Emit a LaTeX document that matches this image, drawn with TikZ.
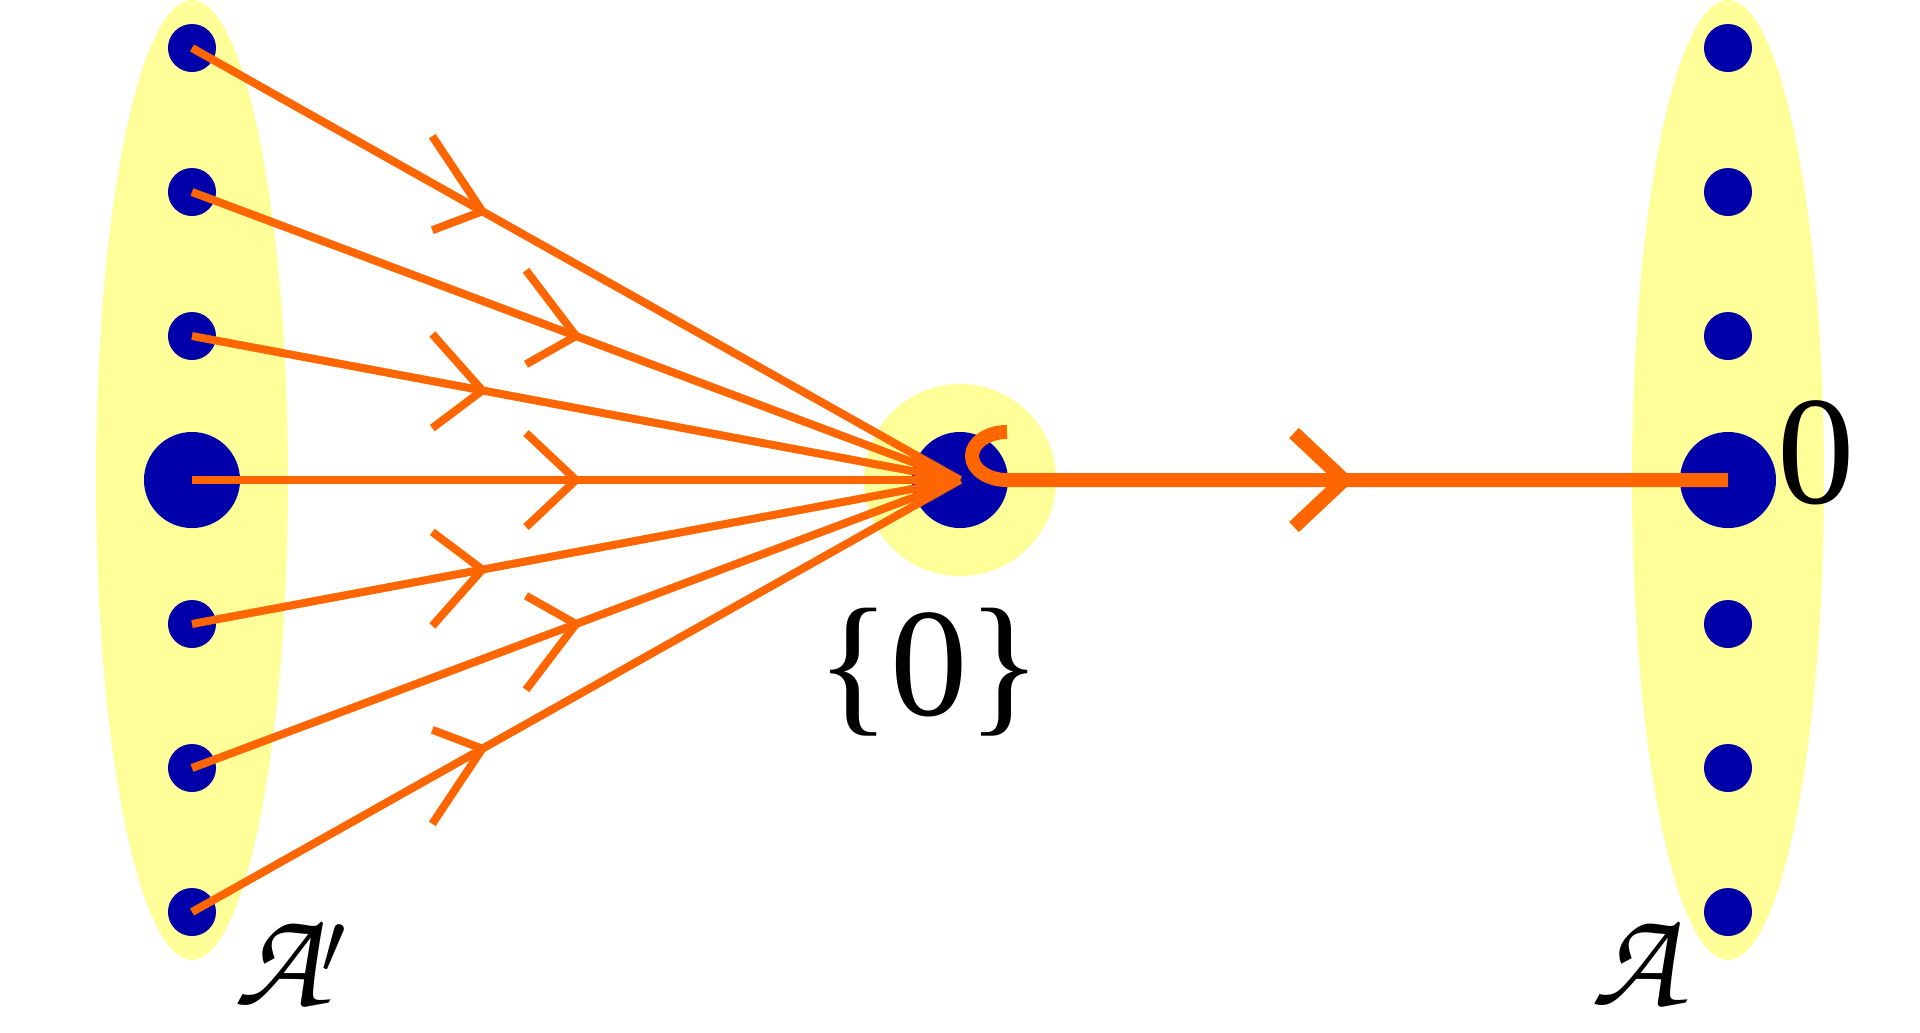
\documentclass[tikz,border=0pt]{standalone}
\usepackage{fontspec}
\setmainfont{Liberation Serif}
\usetikzlibrary{calc}
\definecolor{setyellow}{RGB}{255,255,153}
\definecolor{ptblue}{RGB}{0,0,170}
\definecolor{maporange}{RGB}{255,102,0}
\newcommand{\calA}{{\fontencoding{T1}\fontfamily{pzc}\fontseries{mb}\fontshape{it}\selectfont A}}
\newcommand{\chev}[3]{\draw[#3, shift={#1}, yslant=#2] (-50,-47) -- (0,0) -- (-50,47);}

\begin{document}
\begin{tikzpicture}[x=0.01cm, y=-0.01cm,
  setfill/.style={fill=setyellow},
  ptdot/.style={circle, fill=ptblue, inner sep=0pt, minimum size=0.48cm},
  bigdot/.style={ptdot, minimum size=0.96cm},
  mapline/.style={maporange, line width=0.08cm},
  incline/.style={maporange, line width=0.14cm},
  lbl/.style={inner sep=0pt, font=\fontsize{44}{44}\selectfont}]
  \useasboundingbox (0,0) rectangle (1920,1032);
  % the two sets and the one point set
  \fill[setfill] (192,480) ellipse[x radius=96, y radius=480];
  \fill[setfill] (1728,480) ellipse[x radius=96, y radius=480];
  \fill[setfill] (960,480) circle[radius=0.96cm];
  % points
  \foreach \i in {1,2,3,5,6,7} {
    \node[ptdot] (l\i) at (192,{480+144*(\i-4)}) {};
    \node[ptdot] (r\i) at (1728,{480+144*(\i-4)}) {};
  }
  \node[bigdot] (l4) at (192,480) {};
  \node[bigdot] (r4) at (1728,480) {};
  \node[bigdot] (c) at (960,480) {};
  % the constant map onto {0}
  \foreach \i in {1,...,7} {
    \pgfmathsetmacro\slope{0.1875*(\i-4)}
    \pgfmathsetmacro\where{isodd(\i) ? 0.378 : 0.5}
    \draw[mapline] (l\i.center) -- (c.center);
    \chev{($(l\i.center)!\where!(c.center)$)}{\slope}{mapline}
  }
  % the inclusion of {0}
  \coordinate (h) at ($(c.center)+(47,0)$);
  \draw[incline] (r4.center) -- (h) arc[start angle=270, end angle=90, x radius=0.35cm, y radius=0.24cm];
  \chev{($(c.center)!0.5!(r4.center)$)}{0}{incline}
  % labels
  \node[lbl] (zero) at (1816,453) {0};
  \node[lbl] (pt) at (929,672) {\{0\}};
  \node[inner sep=0pt, font=\fontsize{40}{40}\selectfont] (src) at (291,963) {\calA$'$};
  \node[inner sep=0pt, font=\fontsize{40}{40}\selectfont] (tgt) at (1635,963) {\calA};
\end{tikzpicture}
\end{document}
